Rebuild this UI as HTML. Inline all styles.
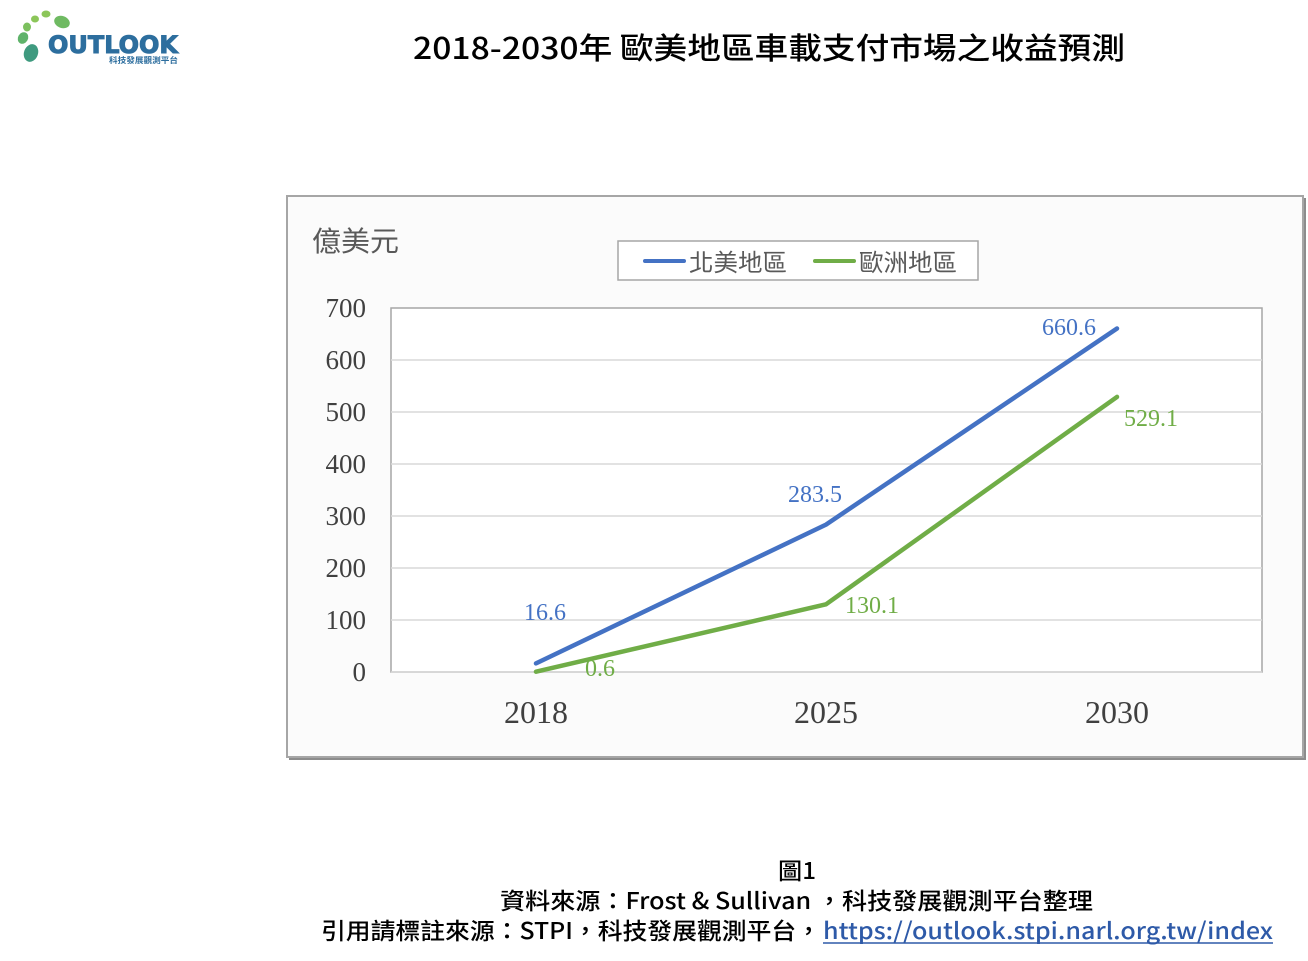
<!DOCTYPE html>
<html><head><meta charset="utf-8"><style>
html,body{margin:0;padding:0;background:#fff;}
svg{display:block;}
</style></head><body>
<svg width="1308" height="961" viewBox="0 0 1308 961" xmlns="http://www.w3.org/2000/svg">
<rect x="0" y="0" width="1308" height="961" fill="#ffffff"/>
<!-- Logo -->
<g>
<ellipse cx="31" cy="53" rx="7" ry="9" fill="#3f9a7f" transform="rotate(20 31 53)"/>
<ellipse cx="23" cy="38" rx="5" ry="6" fill="#5fb36a" transform="rotate(30 23 38)"/>
<ellipse cx="27" cy="27" rx="4" ry="4.5" fill="#7cc05e"/>
<ellipse cx="35" cy="19" rx="4" ry="3.5" fill="#8cc659"/>
<ellipse cx="46" cy="14" rx="4.5" ry="3.5" fill="#8cc659"/>
<ellipse cx="62" cy="22" rx="8" ry="6" fill="#6fba62" transform="rotate(20 62 22)"/>
<text x="48" y="53" font-family="'DejaVu Sans', sans-serif" font-weight="bold" font-size="24" fill="#2d6e9e" stroke="#2d6e9e" stroke-width="1" textLength="130" lengthAdjust="spacingAndGlyphs">OUTLOOK</text>
<text x="109" y="63" font-family="'Noto Sans CJK TC', sans-serif" font-weight="bold" font-size="8" fill="#2d6e9e" textLength="69" lengthAdjust="spacingAndGlyphs">科技發展觀測平台</text>
</g>
<!-- Title -->
<text x="413" y="59" font-family="'Noto Sans CJK TC', sans-serif" font-size="30" font-weight="500" fill="#000" textLength="712" lengthAdjust="spacingAndGlyphs">2018-2030年 歐美地區車載支付市場之收益預測</text>
<!-- Frame -->
<rect x="289" y="198" width="1017" height="562" fill="#8c8c8c"/>
<rect x="287" y="196" width="1016" height="561" fill="#fbfbfb" stroke="#a6a6a6" stroke-width="2"/>
<!-- Plot area -->
<rect x="391" y="308" width="871" height="364" fill="#ffffff" stroke="#a6a6a6" stroke-width="1.5"/>
<g stroke="#d9d9d9" stroke-width="1.5">
<line x1="391" y1="360" x2="1262" y2="360"/>
<line x1="391" y1="412" x2="1262" y2="412"/>
<line x1="391" y1="464" x2="1262" y2="464"/>
<line x1="391" y1="516" x2="1262" y2="516"/>
<line x1="391" y1="568" x2="1262" y2="568"/>
<line x1="391" y1="620" x2="1262" y2="620"/>
<line x1="391" y1="672" x2="1262" y2="672"/>
</g>
<!-- Y labels -->
<g font-family="'Liberation Serif', serif" font-size="27" fill="#404040" text-anchor="end">
<text x="366" y="317">700</text>
<text x="366" y="369">600</text>
<text x="366" y="421">500</text>
<text x="366" y="473">400</text>
<text x="366" y="525">300</text>
<text x="366" y="577">200</text>
<text x="366" y="629">100</text>
<text x="366" y="681">0</text>
</g>
<!-- X labels -->
<g font-family="'Liberation Serif', serif" font-size="32" fill="#404040" text-anchor="middle">
<text x="536" y="723">2018</text>
<text x="826" y="723">2025</text>
<text x="1117" y="723">2030</text>
</g>
<!-- Unit -->
<text x="312" y="251" font-family="'Noto Sans CJK TC', sans-serif" font-size="28" fill="#595959" textLength="87" lengthAdjust="spacingAndGlyphs">億美元</text>
<!-- Legend -->
<rect x="618" y="241" width="360" height="39" fill="#ffffff" stroke="#a6a6a6" stroke-width="1.5"/>
<line x1="645" y1="261" x2="684" y2="261" stroke="#4472C4" stroke-width="4" stroke-linecap="round"/>
<text x="689" y="271" font-family="'Noto Sans CJK TC', sans-serif" font-size="24" fill="#595959" textLength="98" lengthAdjust="spacingAndGlyphs">北美地區</text>
<line x1="815" y1="261" x2="854" y2="261" stroke="#70AD47" stroke-width="4" stroke-linecap="round"/>
<text x="859" y="271" font-family="'Noto Sans CJK TC', sans-serif" font-size="24" fill="#595959" textLength="98" lengthAdjust="spacingAndGlyphs">歐洲地區</text>
<!-- Series -->
<polyline points="536,663.4 826,524.6 1117,328.5" fill="none" stroke="#4472C4" stroke-width="4.5" stroke-linecap="round" stroke-linejoin="round"/>
<polyline points="536,671.7 826,604.3 1117,396.9" fill="none" stroke="#70AD47" stroke-width="4.5" stroke-linecap="round" stroke-linejoin="round"/>
<!-- Data labels -->
<g font-family="'Liberation Serif', serif" font-size="24">
<text x="545" y="620" fill="#4472C4" text-anchor="middle">16.6</text>
<text x="815" y="502" fill="#4472C4" text-anchor="middle">283.5</text>
<text x="1069" y="335" fill="#4472C4" text-anchor="middle">660.6</text>
<text x="600" y="676" fill="#70AD47" text-anchor="middle">0.6</text>
<text x="872" y="613" fill="#70AD47" text-anchor="middle">130.1</text>
<text x="1151" y="426" fill="#70AD47" text-anchor="middle">529.1</text>
</g>
<!-- Footer -->
<g font-family="'Noto Sans CJK TC', sans-serif" font-size="23" fill="#000" font-weight="500">
<text x="778" y="879" textLength="38" lengthAdjust="spacingAndGlyphs">圖1</text>
<text x="500" y="909" textLength="593" lengthAdjust="spacingAndGlyphs">資料來源：Frost &amp; Sullivan ，科技發展觀測平台整理</text>
<text x="321" y="939" textLength="500" lengthAdjust="spacingAndGlyphs">引用請標註來源：STPI，科技發展觀測平台，</text>
<text x="823" y="939" fill="#2e5aa8" textLength="450" lengthAdjust="spacingAndGlyphs">https://outlook.stpi.narl.org.tw/index</text>
</g>
<line x1="823" y1="943" x2="1273" y2="943" stroke="#2e5aa8" stroke-width="1.5"/>
</svg>
</body></html>
